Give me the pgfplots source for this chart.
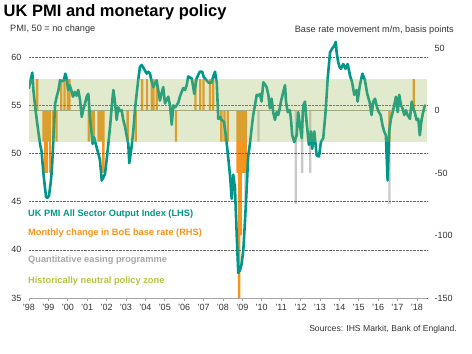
\documentclass[border=0pt]{standalone}
\usepackage{pgfplots}
\pgfplotsset{compat=1.18}
\usepackage{pgfplotstable}
\usepackage{fontspec}
\setmainfont{Liberation Sans}
\definecolor{pmi}{HTML}{00968A}
\definecolor{boe}{HTML}{F7941D}
\definecolor{qe}{HTML}{C9C9C9}
\definecolor{zone}{HTML}{9BBB59}
\definecolor{zonetxt}{HTML}{B4C43C}
\definecolor{qetxt}{HTML}{A6A6A6}
\definecolor{zeroln}{HTML}{A3A38E}
\definecolor{txtgray}{HTML}{333333}

\pgfplotstableread{
x y
1998.00 56.8
1998.08 57.6
1998.17 58.4
1998.23 56.5
1998.31 55.0
1998.40 53.5
1998.48 52.3
1998.57 51.0
1998.65 50.2
1998.74 48.0
1998.82 46.5
1998.88 45.5
1998.95 45.4
1999.03 45.6
1999.12 47.0
1999.18 48.3
1999.27 52.0
1999.35 55.2
1999.44 56.0
1999.52 56.6
1999.60 57.6
1999.70 57.5
1999.80 57.6
1999.87 58.3
1999.94 57.8
2000.02 56.6
2000.10 57.1
2000.19 56.5
2000.27 55.9
2000.36 56.4
2000.45 56.0
2000.54 56.6
2000.63 55.6
2000.72 53.8
2000.80 54.6
2000.89 55.2
2000.97 55.9
2001.06 56.2
2001.14 53.8
2001.22 52.3
2001.28 51.0
2001.36 51.7
2001.44 51.0
2001.52 50.4
2001.60 49.8
2001.66 49.3
2001.75 47.2
2001.83 47.5
2001.92 47.9
2002.00 49.3
2002.09 51.0
2002.18 52.8
2002.27 55.0
2002.35 56.6
2002.43 55.4
2002.52 53.5
2002.60 54.8
2002.69 54.4
2002.78 54.5
2002.86 53.5
2002.95 52.8
2003.04 51.8
2003.12 51.0
2003.17 49.0
2003.23 49.8
2003.29 50.7
2003.38 52.4
2003.46 54.5
2003.55 56.2
2003.64 57.8
2003.72 59.0
2003.81 59.2
2003.90 58.9
2003.98 58.6
2004.07 58.3
2004.15 58.5
2004.24 58.3
2004.32 57.5
2004.41 56.9
2004.50 57.3
2004.58 57.6
2004.67 56.5
2004.75 55.5
2004.84 56.3
2004.92 56.9
2005.01 55.2
2005.10 55.6
2005.18 55.9
2005.27 55.0
2005.36 53.0
2005.44 55.0
2005.53 54.8
2005.61 55.0
2005.70 55.3
2005.78 55.9
2005.87 56.4
2005.95 56.8
2006.04 56.6
2006.13 57.1
2006.21 58.0
2006.30 57.9
2006.39 57.8
2006.46 57.0
2006.52 56.2
2006.58 57.0
2006.64 57.8
2006.73 58.2
2006.81 58.5
2006.93 58.5
2007.00 58.0
2007.07 57.8
2007.16 57.6
2007.24 57.4
2007.33 57.3
2007.42 57.4
2007.50 58.0
2007.59 58.5
2007.68 57.4
2007.76 53.6
2007.85 53.8
2007.93 53.5
2008.05 53.3
2008.15 51.9
2008.24 50.2
2008.36 47.8
2008.45 45.3
2008.53 47.8
2008.62 46.4
2008.67 43.6
2008.74 40.0
2008.79 37.6
2008.88 37.9
2008.96 38.5
2009.05 40.0
2009.13 42.8
2009.22 46.2
2009.30 49.7
2009.39 51.0
2009.47 52.5
2009.56 54.0
2009.65 55.0
2009.74 56.1
2009.82 56.0
2009.91 56.2
2009.99 55.4
2010.08 57.4
2010.16 57.2
2010.25 56.9
2010.34 56.1
2010.42 54.7
2010.51 55.7
2010.59 54.3
2010.68 53.5
2010.77 54.3
2010.85 54.0
2010.92 54.6
2010.99 55.4
2011.11 56.4
2011.20 57.1
2011.25 55.4
2011.34 54.3
2011.45 54.5
2011.51 53.5
2011.57 51.9
2011.68 51.2
2011.80 51.9
2011.88 54.3
2011.97 52.9
2012.06 51.6
2012.14 55.0
2012.23 55.4
2012.31 53.3
2012.43 50.9
2012.54 52.3
2012.60 50.5
2012.71 52.3
2012.83 49.8
2012.95 49.7
2013.05 51.2
2013.17 51.6
2013.29 54.3
2013.40 57.8
2013.52 60.5
2013.63 60.9
2013.74 61.2
2013.82 61.6
2013.86 60.5
2013.94 59.5
2014.01 59.0
2014.08 58.8
2014.20 59.3
2014.32 58.8
2014.43 59.3
2014.55 58.1
2014.66 57.4
2014.77 56.1
2014.89 56.6
2014.94 55.4
2015.06 57.1
2015.19 58.3
2015.32 57.6
2015.44 56.2
2015.58 55.2
2015.66 54.0
2015.75 55.4
2015.84 55.7
2015.92 55.0
2016.01 54.4
2016.13 54.0
2016.23 52.9
2016.31 52.3
2016.40 51.9
2016.49 47.2
2016.57 52.3
2016.66 53.6
2016.75 54.3
2016.83 55.0
2016.92 55.9
2017.01 54.3
2017.09 56.1
2017.18 55.0
2017.26 54.7
2017.35 54.0
2017.43 54.5
2017.52 54.0
2017.64 53.6
2017.73 55.4
2017.81 54.7
2017.90 54.2
2017.98 53.5
2018.07 53.6
2018.15 51.9
2018.24 53.5
2018.32 54.3
2018.41 55.0
}\pmidata

\pgfplotstableread{
x y
1998.417 25
1998.750 -25
1998.833 -50
1998.917 -50
1999.000 -25
1999.083 -50
1999.250 -25
1999.417 -25
1999.667 25
1999.833 25
2000.000 25
2000.083 25
2001.083 -25
2001.250 -25
2001.333 -25
2001.583 -25
2001.667 -25
2001.750 -25
2001.833 -50
2003.083 -25
2003.500 -25
2003.833 25
2004.083 25
2004.333 25
2004.417 25
2004.583 25
2005.583 -25
2006.583 25
2006.833 25
2007.000 25
2007.333 25
2007.500 25
2007.917 -25
2008.083 -25
2008.250 -25
2008.750 -50
2008.833 -150
2008.917 -100
2009.000 -50
2009.083 -50
2009.167 -50
2016.583 -25
2017.833 25
}\boedata

\pgfplotstableread{
x y
2009.167 -75
2009.833 -25
2011.750 -75
2012.083 -50
2012.500 -50
2016.583 -75
}\qedata

\begin{document}
\begin{tikzpicture}
\useasboundingbox (0,0) rectangle (472pt,354pt);
\pgfplotsset{
  base/.style={
    at={(29pt,56pt)}, anchor=south west, scale only axis,
    width=398pt, height=260pt, xmin=1998, xmax=2018.52,
    clip=true,
  },
}
% Right axis: bars
\begin{axis}[base, ymin=-150, ymax=58,
  axis x line=none, axis y line*=right,
  y axis line style={draw=none},
  ytick={-150,-100,-50,0,50},
  ytick style={draw=none}, major tick length=0pt,
  yticklabel style={anchor=west, xshift=4pt, font=\fontsize{9}{10}\selectfont, text=txtgray},
  /pgf/number format/assume math mode=true,
]
\addplot[ybar, bar shift=0pt, bar width=0.12, fill=qe, draw=none] table {\qedata};
\addplot[ybar, bar shift=0pt, bar width=0.12, fill=boe, draw=none] table {\boedata};
\addplot[zeroln, line width=1.1pt] coordinates {(1998,0) (2018.52,0)};
\end{axis}
% Left axis: PMI
\begin{axis}[base, ymin=35, ymax=62,
  axis x line*=bottom, axis y line*=left,
  x axis line style={-, draw=gray!70, line width=0.7pt},
  y axis line style={draw=none},
  ytick={35,40,...,60},
  ytick style={draw=none},
  ymajorgrids, grid style={densely dotted, draw=black!60, line width=0.6pt},
  xtick={1998,...,2018},
  xticklabels={'98,'99,'00,'01,'02,'03,'04,'05,'06,'07,'08,'09,'10,'11,'12,'13,'14,'15,'16,'17,'18},
  xtick style={draw=gray!70, line width=0.6pt},
  tick align=outside, major tick length=3pt,
  xticklabel style={font=\fontsize{9}{10}\selectfont, text=txtgray},
  yticklabel style={font=\fontsize{9}{10}\selectfont, text=txtgray, xshift=-1pt},
  /pgf/number format/assume math mode=true,
]
\addplot[pmi, line width=2.6pt, line join=round, line cap=round] table {\pmidata};
\end{axis}
% Zone overlay
\begin{axis}[base, ymin=-150, ymax=58, axis lines=none]
\addplot[draw=none, fill=zone, fill opacity=0.3] coordinates {(1998,-25) (2018.52,-25) (2018.52,25) (1998,25)} -- cycle;
\end{axis}
% Texts
\node[anchor=base west, inner sep=0, font=\bfseries\fontsize{16.5}{18}\selectfont] at (3.5pt,337.3pt) {UK PMI and monetary policy};
\node[anchor=base west, inner sep=0, font=\fontsize{9.2}{10}\selectfont, text=txtgray] at (10pt,322pt) {PMI, 50 = no change};
\node[anchor=base east, inner sep=0, font=\fontsize{9.2}{10}\selectfont, text=txtgray] at (454pt,321.5pt) {Base rate movement m/m, basis points};
\node[anchor=base east, inner sep=0, font=\fontsize{8.6}{10}\selectfont, text=txtgray] at (457pt,23pt) {Sources: IHS Markit, Bank of England.};
\node[anchor=base west, inner sep=0, font=\bfseries\fontsize{9.25}{10}\selectfont, text=pmi] at (28pt,137pt) {UK PMI All Sector Output Index (LHS)};
\node[anchor=base west, inner sep=0, font=\bfseries\fontsize{9.25}{10}\selectfont, text=boe] at (28pt,118.4pt) {Monthly change in BoE base rate (RHS)};
\node[anchor=base west, inner sep=0, font=\bfseries\fontsize{9.25}{10}\selectfont, text=qetxt] at (28pt,91pt) {Quantitative easing programme};
\node[anchor=base west, inner sep=0, font=\bfseries\fontsize{9.25}{10}\selectfont, text=zonetxt] at (28pt,70.4pt) {Historically neutral policy zone};
\end{tikzpicture}
\end{document}
